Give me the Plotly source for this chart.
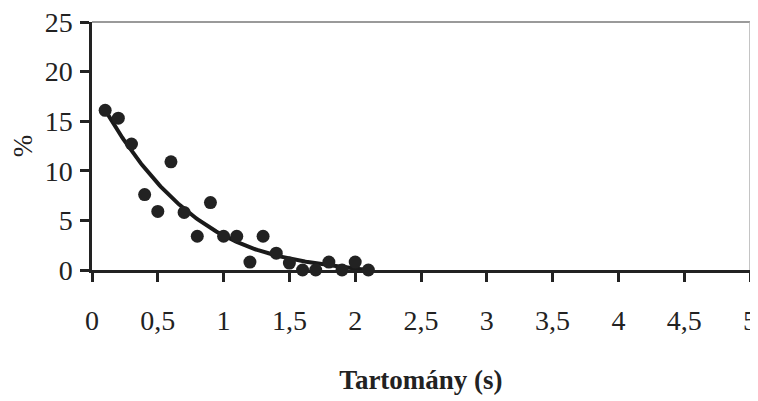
import numpy as np
import plotly.graph_objects as go

# Data
x_vals = [0.1, 0.2, 0.3, 0.4, 0.5, 0.6, 0.7, 0.8, 0.9, 1.0, 1.1, 1.2, 1.3, 1.4,
          1.5, 1.6, 1.7, 1.8, 1.9, 2.0, 2.1]
y_vals = [16.1, 15.3, 12.7, 7.6, 5.9, 10.9, 5.8, 3.4, 6.8, 3.4, 3.4, 0.8, 3.4, 1.7,
          0.7, 0.0, 0.0, 0.8, 0.0, 0.8, 0.0]
x_ticks = [0, 0.5, 1, 1.5, 2, 2.5, 3, 3.5, 4, 4.5, 5]
x_tick_labels = ["0", "0,5", "1", "1,5", "2", "2,5", "3", "3,5", "4", "4,5", "5"]
y_ticks = [0, 5, 10, 15, 20, 25]

# Polynomial trendline fitted to the data
coef = np.polyfit(x_vals, y_vals, 3)
xt = np.linspace(min(x_vals), max(x_vals), 200)
yt = np.polyval(coef, xt)

font_family = "Liberation Serif"

fig = go.Figure()
fig.add_trace(go.Scatter(x=xt, y=yt, mode="lines",
                         line=dict(color="#1a1a1a", width=4), showlegend=False,
                         hoverinfo="skip"))
fig.add_trace(go.Scatter(x=x_vals, y=y_vals, mode="markers",
                         marker=dict(color="#222222", size=13), showlegend=False,
                         cliponaxis=False))

fig.update_layout(
    width=758, height=401,
    margin=dict(l=84, r=16, t=14, b=139, autoexpand=False),
    paper_bgcolor="white", plot_bgcolor="white",
    font=dict(family=font_family, size=28, color="#222222"),
    xaxis=dict(range=[0, 5], tickvals=x_ticks, ticktext=x_tick_labels,
               showgrid=False, zeroline=False, showline=True, automargin=False,
               linecolor="#222222", linewidth=2.5, ticks="outside",
               ticklen=9, tickwidth=2.5, tickcolor="#222222",
               ticklabelstandoff=15, ticklabeloverflow="allow",
               title=dict(text="<b>Tartomány (s)</b>", standoff=35,
                          font=dict(size=27))),
    yaxis=dict(range=[0, 25], tickvals=y_ticks,
               showgrid=False, zeroline=False, showline=True, automargin=False,
               linecolor="#222222", linewidth=2.5, ticks="outside",
               ticklen=9, tickwidth=2.5, tickcolor="#222222",
               ticklabelstandoff=2, ticklabeloverflow="allow",
               title=dict(text="%", standoff=14, font=dict(size=27))),
    shapes=[
        dict(type="line", xref="paper", yref="paper", x0=0, x1=1, y0=1, y1=1,
             line=dict(color="#9a9a9a", width=2)),
        dict(type="line", xref="paper", yref="paper", x0=1, x1=1, y0=0, y1=1,
             line=dict(color="#b0b0b0", width=1.5)),
    ],
)

fig.write_html("out.html")
